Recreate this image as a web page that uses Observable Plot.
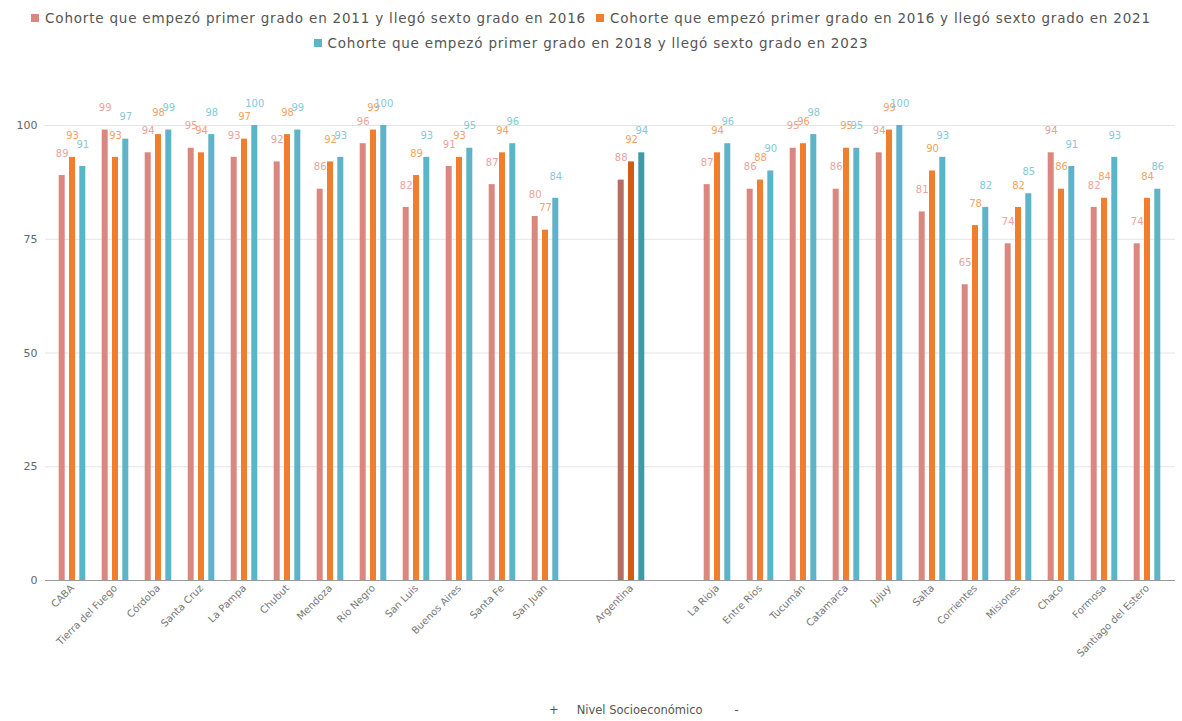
<!DOCTYPE html>
<html>
<head>
<meta charset="utf-8">
<script src="https://cdn.jsdelivr.net/npm/d3@7"></script>
<script src="https://cdn.jsdelivr.net/npm/@observablehq/plot@0.6"></script>
<style>
  body { margin: 0; background: #fff; font-family: "DejaVu Sans", sans-serif; }
  #legend { height: 60px; color: #555; font-size: 13.5px; letter-spacing: 0.8px; }
  .row { display: flex; justify-content: center; gap: 10px; height: 25px; align-items: center; }
  .row:first-child { padding-top: 5px; }
  .item { display: flex; align-items: center; gap: 6px; }
  .sw { width: 8px; height: 8px; display: inline-block; }
  #caption { color: #555; font-size: 11.5px; height: 21px; line-height: 21px; padding-left: 549px; white-space: nowrap; }
  #caption span { display: inline-block; }
</style>
</head>
<body>
<div id="legend"></div>
<div id="chart"></div>
<div id="caption"><span>+</span><span style="margin:0 32px 0 18px">Nivel Socioeconómico</span><span>-</span></div>
<script>
const categorias = ["CABA","Tierra del Fuego","Córdoba","Santa Cruz","La Pampa","Chubut","Mendoza","Río Negro","San Luis","Buenos Aires","Santa Fe","San Juan"," ","Argentina","  ","La Rioja","Entre Ríos","Tucumán","Catamarca","Jujuy","Salta","Corrientes","Misiones","Chaco","Formosa","Santiago del Estero"];
const series = [
  "Cohorte que empezó primer grado en 2011 y llegó sexto grado en 2016",
  "Cohorte que empezó primer grado en 2016 y llegó sexto grado en 2021",
  "Cohorte que empezó primer grado en 2018 y llegó sexto grado en 2023"
];
const v2016 = [89,99,94,95,93,92,86,96,82,91,87,80,null,88,null,87,86,95,86,94,81,65,74,94,82,74];
const v2021 = [93,93,98,94,97,98,92,99,89,93,94,77,null,92,null,94,88,96,95,99,90,78,82,86,84,84];
const v2023 = [91,97,99,98,100,99,93,100,93,95,96,84,null,94,null,96,90,98,95,100,93,82,85,91,93,86];
const yTicks = [0,25,50,75,100];

const colores = ["#d9877f","#ef7e2e","#5cb4c8"];
const coloresArg = ["#b56d62","#cf5d12","#3f99a8"];
const coloresTexto = ["#e8a39c","#f4a263","#88c8d7"];

const valores = [v2016, v2021, v2023];
const filas = [];
valores.forEach((arr, s) => arr.forEach((v, i) => {
  if (v != null) filas.push({cat: categorias[i], serie: s, value: v});
}));

// legend
const leg = document.getElementById("legend");
const rows = [[0,1],[2]];
rows.forEach(r => {
  const div = document.createElement("div");
  div.className = "row";
  r.forEach(s => {
    const it = document.createElement("div");
    it.className = "item";
    it.innerHTML = `<span class="sw" style="background:${colores[s]}"></span><span>${series[s]}</span>`;
    div.appendChild(it);
  });
  leg.appendChild(div);
});

const offsets = [-10.3, 0, 10.3];
const marks = [
  Plot.gridY(yTicks, {stroke: "#e4e4e4", strokeOpacity: 1})
];
[0,1,2].forEach(s => {
  const d = filas.filter(f => f.serie === s);
  marks.push(Plot.barY(d, {
    x: "cat", y: "value", dx: offsets[s], insetLeft: 12, insetRight: 12,
    fill: f => f.cat === "Argentina" ? coloresArg[s] : colores[s]
  }));
});
marks.push(Plot.ruleY([0], {stroke: "#999"}));
[0,1,2].forEach(s => {
  const d = filas.filter(f => f.serie === s);
  marks.push(Plot.text(d, {
    x: "cat", y: "value", dx: offsets[s], dy: -22, text: f => String(f.value),
    fill: coloresTexto[s], fontSize: 10
  }));
});
marks.push(Plot.axisY(yTicks, {tickSize: 0, tickPadding: 8, fontSize: 11, fill: "#666", label: null}));
marks.push(Plot.axisX({tickSize: 0, tickRotate: -45, tickPadding: 6, fontSize: 10, fill: "#777", label: null}));

const chart = Plot.plot({
  width: 1182,
  height: 640,
  marginTop: 65,
  marginBottom: 120,
  marginLeft: 45,
  marginRight: 7,
  style: {fontFamily: "DejaVu Sans, sans-serif", background: "#fff"},
  x: {domain: categorias, paddingInner: 0.3, paddingOuter: 0.226},
  y: {domain: [0, 100]},
  marks
});
document.getElementById("chart").appendChild(chart);
</script>
</body>
</html>
